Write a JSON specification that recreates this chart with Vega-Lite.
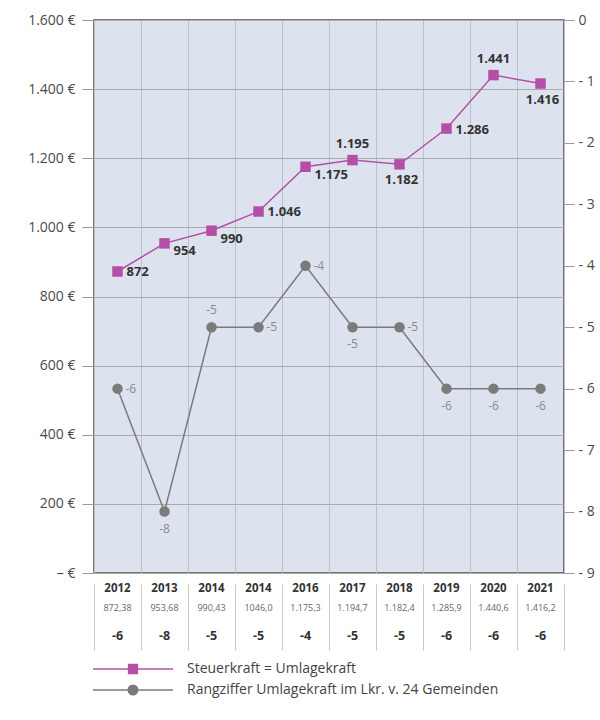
{
  "$schema": "https://vega.github.io/schema/vega-lite/v6.json",
  "padding": {"left": 5, "top": 12, "right": 5, "bottom": 5},
  "background": "white",
  "config": {
    "font": "Open Sans",
    "locale": {"number": {"decimal": ",", "thousands": ".", "grouping": [3], "currency": ["", " €"], "minus": "-"}},
    "concat": {"spacing": 2}
  },
  "data": {"values": [
    {"idx": 1, "jahr": "2012", "sk": 872.38, "tab": "872,38", "rang": -6},
    {"idx": 2, "jahr": "2013", "sk": 953.68, "tab": "953,68", "rang": -8},
    {"idx": 3, "jahr": "2014", "sk": 990.43, "tab": "990,43", "rang": -5},
    {"idx": 4, "jahr": "2014", "sk": 1046.0, "tab": "1046,0", "rang": -5},
    {"idx": 5, "jahr": "2016", "sk": 1175.3, "tab": "1.175,3", "rang": -4},
    {"idx": 6, "jahr": "2017", "sk": 1194.7, "tab": "1.194,7", "rang": -5},
    {"idx": 7, "jahr": "2018", "sk": 1182.4, "tab": "1.182,4", "rang": -5},
    {"idx": 8, "jahr": "2019", "sk": 1285.9, "tab": "1.285,9", "rang": -6},
    {"idx": 9, "jahr": "2020", "sk": 1440.6, "tab": "1.440,6", "rang": -6},
    {"idx": 10, "jahr": "2021", "sk": 1416.2, "tab": "1.416,2", "rang": -6}
  ]},
  "vconcat": [
    {
      "width": 470,
      "height": 553,
      "view": {"fill": "#dde3ee", "stroke": "#4d4d4d", "strokeWidth": 1.5},
      "encoding": {
        "x": {"field": "idx", "type": "ordinal",
          "scale": {"type": "band", "paddingInner": 0, "paddingOuter": 0},
          "axis": {"labels": false, "ticks": false, "domain": false, "grid": true, "tickBand": "extent", "gridColor": "#bcc1c9", "gridWidth": 1, "title": null}}
      },
      "layer": [
        {
          "encoding": {
            "y": {"field": "sk", "type": "quantitative",
              "scale": {"domain": [0, 1600], "nice": false},
              "axis": {"orient": "left", "title": null, "values": [0, 200, 400, 600, 800, 1000, 1200, 1400, 1600],
                "labelExpr": "datum.value == 0 ? '– €' : replace(format(datum.value, ','), ',', '.') + ' €'",
                "grid": true, "gridColor": "#a9abae", "gridWidth": 1, "domain": false,
                "tickColor": "#9a9a9a", "tickSize": 12, "labelPadding": 7, "labelFontSize": 14, "labelColor": "#4a4a4a",
                "minExtent": 88, "maxExtent": 88}}
          },
          "layer": [
            {"mark": {"type": "line", "strokeWidth": 1.5},
             "encoding": {"color": {"datum": "Steuerkraft = Umlagekraft", "type": "nominal",
               "scale": {"domain": ["Steuerkraft = Umlagekraft", "Rangziffer Umlagekraft im Lkr. v. 24 Gemeinden"], "range": ["#b54fa6", "#7b7b7b"]},
               "legend": {"title": null, "orient": "none", "legendX": -4, "legendY": 642, "direction": "vertical",
                 "labelFontSize": 14, "labelColor": "#444", "labelLimit": 0, "rowPadding": 5, "symbolOffset": 36, "labelOffset": 47,
                 "encode": {"symbols": {"update": {
                   "shape": {"signal": "datum.value == 'Steuerkraft = Umlagekraft' ? 'M-10,0H10M-1.1,-1.1H1.1V1.1H-1.1Z' : 'M-10,0H10M-1.2,0A1.2,1.2,0,1,0,1.2,0A1.2,1.2,0,1,0,-1.2,0Z'"},
                   "size": {"value": 64},
                   "fill": {"scale": "color", "field": "value"},
                   "stroke": {"scale": "color", "field": "value"},
                   "strokeWidth": {"value": 1.5},
                   "opacity": {"value": 1}}}}}}}},
            {"mark": {"type": "point", "shape": "square", "filled": true, "size": 110, "opacity": 1},
             "encoding": {"color": {"datum": "Steuerkraft = Umlagekraft", "type": "nominal"}}},
            {"transform": [{"filter": {"field": "idx", "oneOf": [1, 4, 8]}}],
             "mark": {"type": "text", "align": "left", "dx": 9, "dy": 1, "fontSize": 13, "fontWeight": "bold", "color": "#333"},
             "encoding": {"text": {"field": "sk", "type": "quantitative", "format": ",.0f"}}},
            {"transform": [{"filter": {"field": "idx", "oneOf": [2, 3, 5]}}],
             "mark": {"type": "text", "align": "left", "dx": 9, "dy": 8, "fontSize": 13, "fontWeight": "bold", "color": "#333"},
             "encoding": {"text": {"field": "sk", "type": "quantitative", "format": ",.0f"}}},
            {"transform": [{"filter": {"field": "idx", "oneOf": [6, 9]}}],
             "mark": {"type": "text", "align": "center", "dy": -16, "fontSize": 13, "fontWeight": "bold", "color": "#333"},
             "encoding": {"text": {"field": "sk", "type": "quantitative", "format": ",.0f"}}},
            {"transform": [{"filter": {"field": "idx", "oneOf": [7, 10]}}],
             "mark": {"type": "text", "align": "center", "dx": 2, "dy": 16, "fontSize": 13, "fontWeight": "bold", "color": "#333"},
             "encoding": {"text": {"field": "sk", "type": "quantitative", "format": ",.0f"}}}
          ]
        },
        {
          "encoding": {
            "y": {"field": "rang", "type": "quantitative",
              "scale": {"domain": [-9, 0], "nice": false},
              "axis": {"orient": "right", "title": null, "values": [0, -1, -2, -3, -4, -5, -6, -7, -8, -9],
                "labelExpr": "datum.value == 0 ? '0' : '- ' + abs(datum.value)",
                "grid": false, "domain": false, "tickColor": "#9a9a9a", "tickSize": 10, "labelPadding": 4,
                "labelFontSize": 14, "labelColor": "#4a4a4a"}}
          },
          "layer": [
            {"mark": {"type": "line", "strokeWidth": 1.5},
             "encoding": {"color": {"datum": "Rangziffer Umlagekraft im Lkr. v. 24 Gemeinden", "type": "nominal"}}},
            {"mark": {"type": "point", "shape": "circle", "filled": true, "size": 110, "opacity": 1},
             "encoding": {"color": {"datum": "Rangziffer Umlagekraft im Lkr. v. 24 Gemeinden", "type": "nominal"}}},
            {"transform": [{"filter": {"field": "idx", "oneOf": [1, 4, 5, 7]}}],
             "mark": {"type": "text", "align": "left", "dx": 8, "dy": 0, "fontSize": 12, "color": "#8a8a8a"},
             "encoding": {"text": {"field": "rang", "type": "quantitative", "format": "d"}}},
            {"transform": [{"filter": {"field": "idx", "oneOf": [2, 6, 8, 9, 10]}}],
             "mark": {"type": "text", "align": "center", "dy": 17, "fontSize": 12, "color": "#8a8a8a"},
             "encoding": {"text": {"field": "rang", "type": "quantitative", "format": "d"}}},
            {"transform": [{"filter": {"field": "idx", "oneOf": [3]}}],
             "mark": {"type": "text", "align": "center", "dy": -17, "fontSize": 12, "color": "#8a8a8a"},
             "encoding": {"text": {"field": "rang", "type": "quantitative", "format": "d"}}}
          ]
        }
      ],
      "resolve": {"scale": {"y": "independent"}}
    },
    {
      "width": 470,
      "height": 66,
      "view": {"stroke": null},
      "encoding": {
        "x": {"field": "idx", "type": "ordinal",
          "scale": {"type": "band", "paddingInner": 0, "paddingOuter": 0},
          "axis": {"labels": false, "ticks": false, "domain": false, "grid": true, "tickBand": "extent", "gridColor": "#c8c8c8", "gridWidth": 1, "title": null}}
      },
      "layer": [
        {"mark": {"type": "text", "fontSize": 11.5, "fontWeight": "bold", "color": "#333", "dy": -6},
         "encoding": {"y": {"datum": "jahr", "type": "nominal", "scale": {"type": "point", "domain": ["jahr", "wert", "rang"], "padding": 0.5}, "axis": null},
           "text": {"field": "jahr", "type": "nominal"}}},
        {"mark": {"type": "text", "fontSize": 9, "color": "#666", "dy": -9},
         "encoding": {"y": {"datum": "wert", "type": "nominal"},
           "text": {"field": "tab", "type": "nominal"}}},
        {"mark": {"type": "text", "fontSize": 12.5, "fontWeight": "bold", "color": "#333", "dy": -3},
         "encoding": {"y": {"datum": "rang", "type": "nominal"},
           "text": {"field": "rang", "type": "quantitative", "format": "d"}}}
      ]
    }
  ]
}
